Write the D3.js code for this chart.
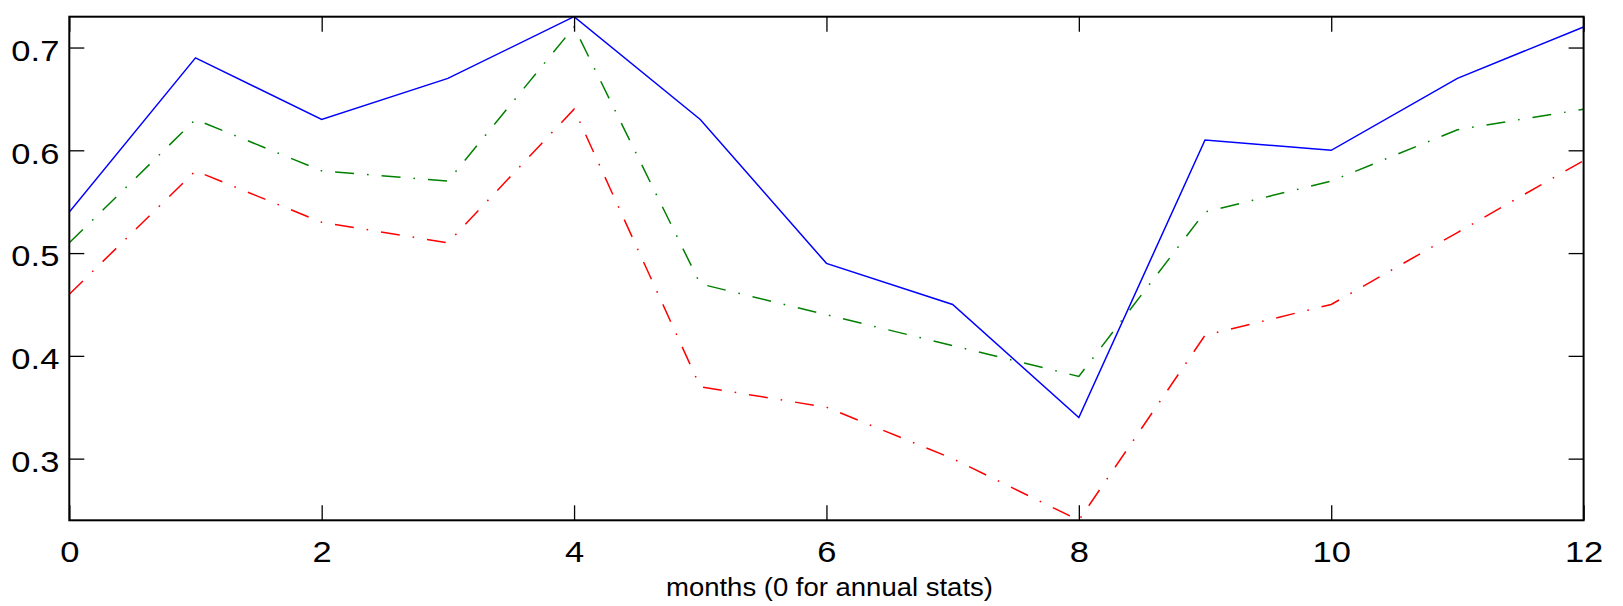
<!DOCTYPE html>
<html>
<head>
<meta charset="utf-8">
<script src="https://cdn.jsdelivr.net/npm/d3@7"></script>
<style>
  html, body { margin: 0; padding: 0; background: #fff; }
  svg { display: block; }
  text { font-family: "Liberation Sans", Arial, Helvetica, sans-serif; fill: #000; }
</style>
</head>
<body>
<svg id="chart" width="1623" height="606"></svg>
<script>
// Monthly statistics, month 0 = annual value
const months = [0, 1, 2, 3, 4, 5, 6, 7, 8, 9, 10, 11, 12];
const upperSeries  = [0.54, 0.69, 0.63, 0.67, 0.73, 0.63, 0.49, 0.45, 0.34, 0.61, 0.60, 0.67, 0.72];
const middleSeries = [0.51, 0.63, 0.58, 0.57, 0.72, 0.47, 0.44, 0.41, 0.38, 0.54, 0.57, 0.62, 0.64];
const lowerSeries  = [0.46, 0.58, 0.53, 0.51, 0.64, 0.37, 0.35, 0.30, 0.24, 0.42, 0.45, 0.52, 0.59];
const xTicks = [0, 2, 4, 6, 8, 10, 12];
const yTicks = [0.3, 0.4, 0.5, 0.6, 0.7];
const xLabel = "months (0 for annual stats)";

const plot = { left: 69.3, right: 1583.6, top: 16.7, bottom: 520.3 };
const stretch = 1.15;

const svg = d3.select("#chart");
const x = d3.scaleLinear().domain([0, 12]).range([plot.left, plot.right]);
const y = d3.scaleLinear().domain([0.24, 0.73]).range([plot.bottom, plot.top]);

// clip lines to the axes box
svg.append("defs").append("clipPath").attr("id", "plotClip")
  .append("rect")
  .attr("x", plot.left).attr("y", plot.top)
  .attr("width", plot.right - plot.left).attr("height", plot.bottom - plot.top);

const line = d3.line().x((d, i) => x(months[i])).y(d => y(d));

const series = [
  { values: upperSeries,  color: "#0000ff", dash: null },
  { values: middleSeries, color: "#008000", dash: "19,13,1.6,13" },
  { values: lowerSeries,  color: "#ff0000", dash: "19,13,1.6,13" }
];

const lines = svg.append("g").attr("clip-path", "url(#plotClip)");
series.forEach(s => {
  lines.append("path")
    .datum(s.values)
    .attr("d", line)
    .attr("fill", "none")
    .attr("stroke", s.color)
    .attr("stroke-width", 1.5)
    .attr("stroke-linejoin", "miter")
    .attr("stroke-dasharray", s.dash);
});

// axes with inward ticks on all four sides
const tickLen = 15;
const bottomAxis = d3.axisBottom(x).tickValues(xTicks).tickFormat(d3.format("d"))
  .tickSizeInner(-tickLen).tickSizeOuter(0).tickPadding(20);
const topAxis = d3.axisTop(x).tickValues(xTicks).tickFormat("")
  .tickSizeInner(-tickLen).tickSizeOuter(0);
const leftAxis = d3.axisLeft(y).tickValues(yTicks).tickFormat(d3.format(".1f"))
  .tickSizeInner(-tickLen).tickSizeOuter(0).tickPadding(10);
const rightAxis = d3.axisRight(y).tickValues(yTicks).tickFormat("")
  .tickSizeInner(-tickLen).tickSizeOuter(0);

function styleAxis(g) {
  g.select(".domain").remove();
  g.selectAll(".tick line").attr("stroke", "#000").attr("stroke-width", 1.3);
  g.selectAll(".tick text").attr("font-size", 30).attr("fill", "#000");
}

const gb = svg.append("g").attr("transform", `translate(0,${plot.bottom})`).call(bottomAxis).call(styleAxis);
gb.selectAll(".tick text")
  .attr("font-family", "Liberation Sans, Arial, sans-serif")
  .attr("transform", `scale(${stretch},1)`);

svg.append("g").attr("transform", `translate(0,${plot.top})`).call(topAxis).call(styleAxis);

const gl = svg.append("g").attr("transform", `translate(${plot.left},0)`).call(leftAxis).call(styleAxis);
gl.selectAll(".tick text")
  .attr("font-family", "Liberation Sans, Arial, sans-serif")
  .attr("x", -10 / stretch)
  .attr("dy", "0.43em")
  .attr("transform", `scale(${stretch},1)`);

svg.append("g").attr("transform", `translate(${plot.right},0)`).call(rightAxis).call(styleAxis);

// axes box
svg.append("rect")
  .attr("x", plot.left).attr("y", plot.top)
  .attr("width", plot.right - plot.left).attr("height", plot.bottom - plot.top)
  .attr("fill", "none").attr("stroke", "#000").attr("stroke-width", 2);

// x-axis title
svg.append("text")
  .attr("transform", `translate(${(plot.left + plot.right) / 2 + 3},596) scale(1.1,1)`)
  .attr("text-anchor", "middle")
  .attr("font-size", 25)
  .text(xLabel);
</script>
</body>
</html>
